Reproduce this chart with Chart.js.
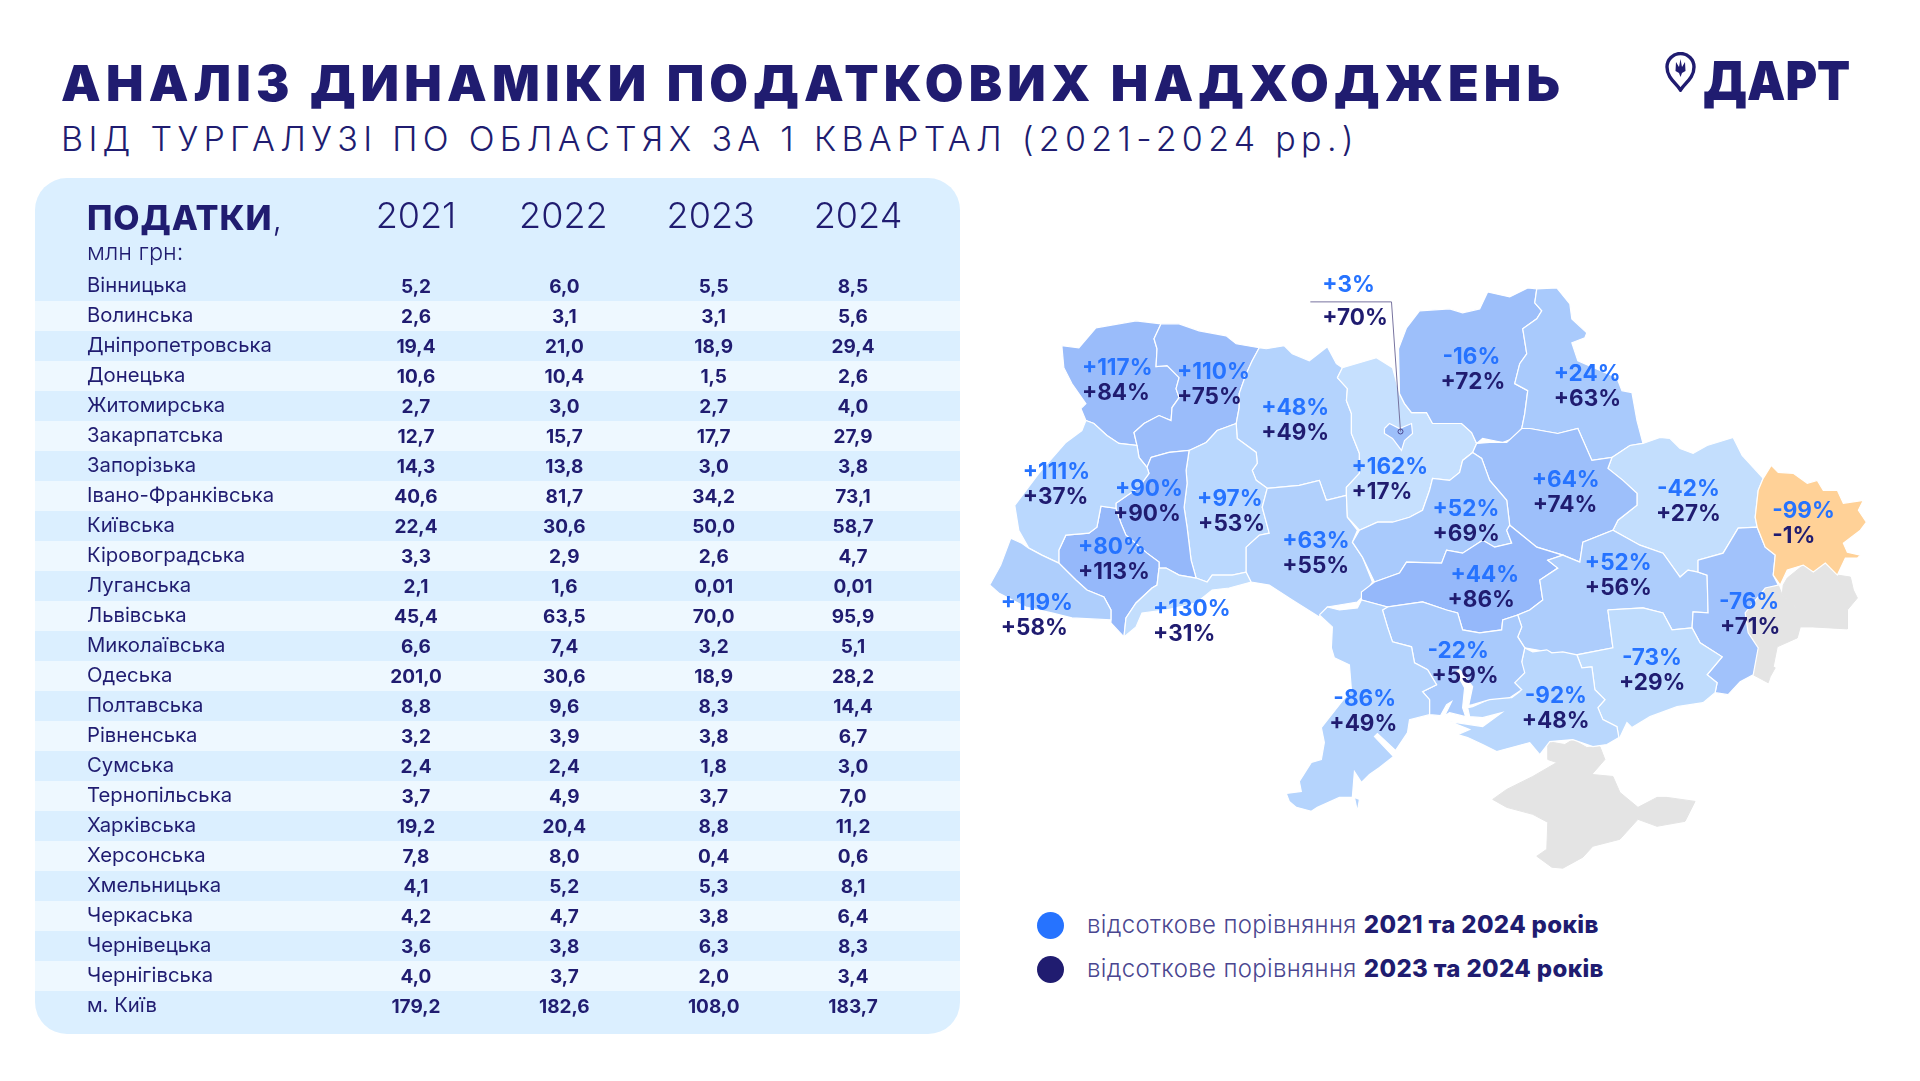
<!DOCTYPE html>
<html lang="uk">
<head>
<meta charset="utf-8">
<title>Аналіз динаміки податкових надходжень</title>
<script src="https://cdn.jsdelivr.net/npm/chart.js@4/dist/chart.umd.min.js"></script>
<style>
  html, body { margin: 0; padding: 0; background: #fff; }
  body { position: relative; width: 1920px; height: 1081px; overflow: hidden; font-family: Inter, sans-serif; color: #201c70; }
  .abs { position: absolute; white-space: nowrap; }
  #title { left: 61px; top: 53px; font-size: 50px; line-height: 60px; font-weight: 900; letter-spacing: 5.2px; }
  #subtitle { left: 61px; top: 118px; font-size: 34px; line-height: 41px; font-weight: 300; letter-spacing: 5.3px; }
  #tablePanel { left: 35px; top: 178px; width: 925px; height: 856px; background: #dbefff; border-radius: 32px; overflow: hidden; }
  #tableChart { position: absolute; left: 0; top: 0; }
  #mapChart { position: absolute; left: 980px; top: 260px; }
  #taxHead { left: 87px; top: 197px; font-size: 34px; line-height: 42px; font-weight: 800; letter-spacing: 0.9px; }
  #taxHead span { font-weight: 300; }
  #taxUnit { left: 87px; top: 238px; font-size: 23.5px; line-height: 28px; font-weight: 300; }
  .dot { position: absolute; width: 27px; height: 27px; border-radius: 50%; }
  .legendText { left: 1087px; font-size: 24px; line-height: 30px; font-weight: 300; color: #4a4690; letter-spacing: 0.35px; }
  .legendText b { font-weight: 800; color: #201c70; }
  #logoText { left: 1703px; top: 48px; font-size: 54px; line-height: 66px; font-weight: 900; transform: scaleX(.895); transform-origin: left center; }
  #logoPin { position: absolute; left: 1665px; top: 52px; }
</style>
</head>
<body>
<div class="abs" id="title">АНАЛІЗ ДИНАМІКИ ПОДАТКОВИХ НАДХОДЖЕНЬ</div>
<div class="abs" id="subtitle">ВІД ТУРГАЛУЗІ ПО ОБЛАСТЯХ ЗА 1 КВАРТАЛ (2021-2024 рр.)</div>

<svg id="logoPin" width="31" height="40" viewBox="0 0 31 40">
  <path d="M15.5 38 C11 31 2 26 2 15 A13.5 13.5 0 0 1 29 15 C29 26 20 31 15.5 38 Z" fill="none" stroke="#201c70" stroke-width="3.4"/>
  <path d="M15.5 7 L17 15 L20 10 L20.5 19 L17 21 L15.5 25 L14 21 L10.5 19 L11 10 L14 15 Z" fill="#201c70"/>
</svg>
<div class="abs" id="logoText">ДАРТ</div>

<div class="abs" id="tablePanel"><canvas id="tableChart" width="925" height="856"></canvas></div>
<div class="abs" id="taxHead">ПОДАТКИ<span>,</span></div>
<div class="abs" id="taxUnit">млн грн:</div>

<canvas id="mapChart" width="940" height="640"></canvas>

<div class="dot" style="left:1037px;top:912px;background:#2673ff"></div>
<div class="abs legendText" style="top:910px">відсоткове порівняння <b>2021 та 2024 років</b></div>
<div class="dot" style="left:1037px;top:956px;background:#201c70"></div>
<div class="abs legendText" style="top:954px">відсоткове порівняння <b>2023 та 2024 років</b></div>

<script>
// ---- TABLE DATA ----
const years = ['2021', '2022', '2023', '2024'];
const regions = [
  'Вінницька', 'Волинська', 'Дніпропетровська', 'Донецька', 'Житомирська', 'Закарпатська', 'Запорізька',
  'Івано-Франківська', 'Київська', 'Кіровоградська', 'Луганська', 'Львівська', 'Миколаївська', 'Одеська',
  'Полтавська', 'Рівненська', 'Сумська', 'Тернопільська', 'Харківська', 'Херсонська', 'Хмельницька',
  'Черкаська', 'Чернівецька', 'Чернігівська', 'м. Київ'
];
const taxes2021 = [5.2, 2.6, 19.4, 10.6, 2.7, 12.7, 14.3, 40.6, 22.4, 3.3, 2.1, 45.4, 6.6, 201.0, 8.8, 3.2, 2.4, 3.7, 19.2, 7.8, 4.1, 4.2, 3.6, 4.0, 179.2];
const taxes2022 = [6.0, 3.1, 21.0, 10.4, 3.0, 15.7, 13.8, 81.7, 30.6, 2.9, 1.6, 63.5, 7.4, 30.6, 9.6, 3.9, 2.4, 4.9, 20.4, 8.0, 5.2, 4.7, 3.8, 3.7, 182.6];
const taxes2023 = [5.5, 3.1, 18.9, 1.5, 2.7, 17.7, 3.0, 34.2, 50.0, 2.6, 0.01, 70.0, 3.2, 18.9, 8.3, 3.8, 1.8, 3.7, 8.8, 0.4, 5.3, 3.8, 6.3, 2.0, 108.0];
const taxes2024 = [8.5, 5.6, 29.4, 2.6, 4.0, 27.9, 3.8, 73.1, 58.7, 4.7, 0.01, 95.9, 5.1, 28.2, 14.4, 6.7, 3.0, 7.0, 11.2, 0.6, 8.1, 6.4, 8.3, 3.4, 183.7];

// ---- MAP LABELS (same order as regions) ----
const change2021to2024 = [63, 117, 52, -76, 48, 119, -73, 80, 162, 44, -99, 111, -22, -86, 64, 110, 24, 90, -42, -92, 97, 52, 130, -16, 3];
const change2023to2024 = [55, 84, 56, 71, 49, 58, 29, 113, 17, 86, -1, 37, 59, 49, 74, 75, 63, 90, 27, 48, 53, 69, 31, 72, 70];

// ---- COLOURS ----
const navy = '#201c70';
const brightBlue = '#2673ff';
const bandLight = '#eef8ff';
const occupiedGray = '#e4e4e4';
const regionColors = {
  'Вінницька': '#b1d0fc', 'Волинська': '#9abcfa', 'Дніпропетровська': '#adcdfc', 'Донецька': '#a1c2fb',
  'Житомирська': '#b4d3fd', 'Закарпатська': '#aecefc', 'Запорізька': '#bfdcfd', 'Івано-Франківська': '#95b8fa',
  'Київська': '#c6e0fe', 'Кіровоградська': '#95b8fa', 'Луганська': '#ffd197', 'Львівська': '#bad8fe',
  'Миколаївська': '#a9cafc', 'Одеська': '#b5d4fd', 'Полтавська': '#9dbffa', 'Рівненська': '#9abcfa',
  'Сумська': '#a9cafc', 'Тернопільська': '#95b8fa', 'Харківська': '#c3defd', 'Херсонська': '#b9d7fd',
  'Хмельницька': '#bad8fe', 'Черкаська': '#a9cafc', 'Чернівецька': '#c3defd', 'Чернігівська': '#9dbffa',
  'м. Київ': '#9dbffa'
};

// ---- MAP OUTLINES (traced, in map units) ----
const outlines = {
  'Волинська': [[1063,345],[1080,347],[1097,327],[1137,320],[1162,323],[1155,338],[1158,348],[1157,366],[1168,365],[1180,377],[1177,388],[1180,397],[1173,407],[1172,420],[1160,415],[1145,423],[1135,432],[1138,445],[1120,443],[1108,435],[1095,423],[1087,420],[1082,408],[1087,403],[1073,383],[1065,367]],
  'Рівненська': [[1162,323],[1180,323],[1200,330],[1227,335],[1237,343],[1260,347],[1253,360],[1247,373],[1240,393],[1240,407],[1237,423],[1218,430],[1207,442],[1190,450],[1170,452],[1152,457],[1148,467],[1140,457],[1138,445],[1135,432],[1145,423],[1160,415],[1172,420],[1173,407],[1180,397],[1177,388],[1180,377],[1168,365],[1157,366],[1158,348],[1155,338]],
  'Житомирська': [[1260,347],[1267,348],[1285,345],[1293,353],[1310,360],[1328,346],[1337,363],[1343,367],[1338,377],[1348,388],[1347,400],[1352,413],[1352,433],[1360,453],[1360,473],[1347,487],[1347,495],[1327,500],[1320,480],[1300,485],[1268,488],[1257,480],[1253,470],[1258,463],[1257,452],[1238,438],[1237,423],[1240,407],[1240,393],[1247,373],[1253,360]],
  'Хмельницька': [[1190,450],[1207,442],[1218,430],[1237,423],[1238,438],[1257,452],[1258,463],[1253,470],[1257,480],[1268,488],[1263,507],[1270,533],[1260,535],[1247,547],[1247,572],[1233,575],[1213,575],[1208,582],[1197,578],[1192,560],[1188,527],[1185,507],[1188,483],[1187,470]],
  'Тернопільська': [[1152,457],[1170,452],[1190,450],[1187,470],[1188,483],[1185,507],[1188,527],[1192,560],[1197,578],[1180,575],[1167,568],[1160,568],[1160,562],[1148,553],[1127,535],[1122,523],[1117,508],[1117,503],[1140,487],[1150,473],[1148,467]],
  'Івано-Франківська': [[1102,506],[1117,508],[1122,523],[1127,535],[1148,553],[1160,562],[1160,568],[1158,585],[1153,588],[1137,603],[1127,618],[1125,637],[1112,623],[1112,610],[1105,597],[1088,590],[1077,580],[1060,563],[1060,550],[1067,535],[1090,533],[1098,527]],
  'Львівська': [[1087,420],[1095,423],[1108,435],[1120,443],[1138,445],[1140,457],[1148,467],[1150,473],[1140,487],[1117,503],[1117,508],[1102,506],[1098,527],[1090,533],[1067,535],[1060,550],[1060,563],[1043,555],[1030,548],[1020,530],[1016,505],[1040,473],[1067,442],[1083,430]],
  'Закарпатська': [[1012,538],[1023,543],[1030,548],[1043,555],[1060,563],[1077,580],[1088,590],[1105,597],[1112,610],[1112,620],[1073,618],[1053,613],[1027,607],[1000,593],[991,585],[1002,565]],
  'Чернівецька': [[1160,568],[1167,568],[1180,575],[1197,578],[1208,582],[1213,575],[1233,575],[1247,572],[1252,582],[1230,588],[1213,590],[1197,603],[1167,610],[1143,613],[1137,627],[1125,637],[1127,618],[1137,603],[1153,588],[1158,585]],
  'Вінницька': [[1268,488],[1300,485],[1320,480],[1327,500],[1347,495],[1348,517],[1358,530],[1353,542],[1363,557],[1373,582],[1362,598],[1358,602],[1328,607],[1320,617],[1293,600],[1270,585],[1252,582],[1247,572],[1247,547],[1260,535],[1270,533],[1263,507]],
  'Київська': [[1338,377],[1343,367],[1377,357],[1393,367],[1400,393],[1405,403],[1412,412],[1427,412],[1433,423],[1462,423],[1472,432],[1477,443],[1473,452],[1463,460],[1460,472],[1450,480],[1433,478],[1430,490],[1423,510],[1410,517],[1393,522],[1378,522],[1360,530],[1348,517],[1347,495],[1347,487],[1360,473],[1360,453],[1352,433],[1352,413],[1347,400],[1348,388]],
  'м. Київ': [[1385,428],[1390,423],[1400,428],[1412,423],[1413,433],[1405,440],[1402,450],[1393,438],[1385,433]],
  'Чернігівська': [[1400,393],[1399,348],[1407,327],[1420,310],[1450,308],[1463,312],[1480,308],[1488,291],[1510,296],[1528,287],[1537,288],[1535,302],[1542,310],[1537,318],[1523,328],[1527,353],[1520,363],[1515,383],[1528,390],[1525,413],[1522,428],[1513,438],[1503,442],[1483,438],[1477,443],[1472,432],[1462,423],[1433,423],[1427,412],[1412,412],[1405,403]],
  'Сумська': [[1537,288],[1557,287],[1570,303],[1572,318],[1587,332],[1585,337],[1572,342],[1578,360],[1617,377],[1622,390],[1632,392],[1637,420],[1643,443],[1630,445],[1612,457],[1592,460],[1578,428],[1558,433],[1530,428],[1522,428],[1525,413],[1528,390],[1515,383],[1520,363],[1527,353],[1523,328],[1537,318],[1542,310],[1535,302]],
  'Харківська': [[1612,457],[1630,445],[1643,443],[1660,437],[1670,438],[1680,448],[1693,453],[1707,445],[1733,437],[1742,455],[1763,478],[1758,490],[1755,517],[1757,527],[1738,528],[1723,553],[1698,560],[1698,572],[1688,570],[1680,577],[1663,553],[1640,545],[1613,530],[1618,520],[1637,505],[1637,493],[1623,480],[1608,468]],
  'Полтавська': [[1477,443],[1490,442],[1507,442],[1522,428],[1530,428],[1558,433],[1578,428],[1592,460],[1612,457],[1608,468],[1623,480],[1637,493],[1637,505],[1618,520],[1613,530],[1583,542],[1580,562],[1563,555],[1537,547],[1510,525],[1507,500],[1490,480],[1482,458],[1473,452]],
  'Черкаська': [[1473,452],[1482,458],[1490,480],[1507,500],[1510,525],[1507,530],[1512,543],[1495,547],[1483,540],[1463,553],[1447,550],[1442,563],[1407,562],[1400,573],[1375,582],[1363,557],[1353,542],[1360,530],[1378,522],[1393,522],[1410,517],[1423,510],[1430,490],[1433,478],[1450,480],[1460,472],[1463,460]],
  'Кіровоградська': [[1362,600],[1362,592],[1375,582],[1400,573],[1407,562],[1442,563],[1447,550],[1463,553],[1483,540],[1495,547],[1512,543],[1507,530],[1510,525],[1537,547],[1563,555],[1548,560],[1558,568],[1540,580],[1543,600],[1530,610],[1518,615],[1503,620],[1502,630],[1480,633],[1463,630],[1458,613],[1447,610],[1423,602],[1388,607]],
  'Дніпропетровська': [[1563,555],[1580,562],[1583,542],[1613,530],[1640,545],[1663,553],[1680,577],[1688,570],[1698,572],[1707,575],[1708,613],[1693,612],[1692,628],[1672,630],[1663,613],[1643,608],[1608,610],[1613,648],[1577,655],[1553,653],[1525,648],[1518,637],[1522,627],[1518,615],[1530,610],[1543,600],[1540,580],[1558,568],[1548,560]],
  'Донецька': [[1698,560],[1723,553],[1738,528],[1757,527],[1765,547],[1775,555],[1773,575],[1778,585],[1765,588],[1745,613],[1748,633],[1758,648],[1753,675],[1740,682],[1728,695],[1715,693],[1717,683],[1707,675],[1722,657],[1700,643],[1692,628],[1693,612],[1708,613],[1707,575],[1698,572]],
  'Луганська': [[1763,478],[1771,465],[1778,472],[1793,473],[1807,483],[1817,480],[1823,490],[1837,490],[1843,503],[1863,500],[1858,510],[1866,522],[1860,530],[1843,543],[1847,552],[1860,555],[1857,558],[1845,558],[1837,575],[1825,563],[1813,572],[1803,565],[1787,570],[1780,585],[1773,575],[1775,555],[1765,547],[1757,527],[1755,517],[1758,490]],
  'Запорізька': [[1608,610],[1643,608],[1663,613],[1672,630],[1692,628],[1700,643],[1722,657],[1707,675],[1717,683],[1715,693],[1703,703],[1677,707],[1650,717],[1632,728],[1627,723],[1619,740],[1617,727],[1603,720],[1598,708],[1605,700],[1595,690],[1592,667],[1582,668],[1577,655],[1613,648]],
  'Херсонська': [[1525,648],[1533,652],[1547,650],[1552,653],[1563,652],[1577,655],[1582,668],[1592,667],[1595,690],[1605,700],[1598,708],[1603,720],[1617,727],[1619,738],[1607,745],[1593,747],[1573,740],[1550,742],[1540,755],[1530,743],[1497,752],[1483,745],[1468,738],[1458,735],[1470,730],[1450,722],[1483,727],[1502,713],[1483,718],[1470,717],[1468,708],[1473,707],[1493,698],[1512,698],[1520,692],[1513,682],[1522,672],[1522,662]],
  'Миколаївська': [[1383,610],[1388,607],[1423,602],[1447,610],[1458,613],[1463,630],[1480,633],[1502,630],[1503,620],[1518,615],[1522,627],[1518,637],[1525,648],[1522,662],[1525,673],[1515,683],[1522,690],[1510,698],[1490,700],[1473,705],[1469,706],[1473,687],[1460,670],[1456,672],[1465,688],[1463,708],[1466,717],[1450,713],[1445,716],[1452,702],[1447,705],[1441,716],[1430,715],[1430,700],[1423,692],[1437,685],[1428,670],[1415,663],[1412,647],[1393,642],[1388,627]],
  'Одеська': [[1320,615],[1328,607],[1340,610],[1358,608],[1362,600],[1388,607],[1383,610],[1388,627],[1393,642],[1412,647],[1415,663],[1428,670],[1437,685],[1423,692],[1430,700],[1430,715],[1410,720],[1408,733],[1396,751],[1378,734],[1375,737],[1394,757],[1380,768],[1370,775],[1362,783],[1355,772],[1353,797],[1360,800],[1358,812],[1355,798],[1340,798],[1318,808],[1312,812],[1297,808],[1290,802],[1287,794],[1302,792],[1300,782],[1312,763],[1322,760],[1325,743],[1322,728],[1340,705],[1352,690],[1350,665],[1335,658],[1332,648],[1333,627]]
};
const occupiedOutlines = [
  [[1548,742],[1565,745],[1573,740],[1587,748],[1600,747],[1605,760],[1592,775],[1613,777],[1620,793],[1638,808],[1657,798],[1667,798],[1695,802],[1685,822],[1657,827],[1638,820],[1620,840],[1593,847],[1583,858],[1563,869],[1552,868],[1537,857],[1547,850],[1548,823],[1533,815],[1507,808],[1493,800],[1507,790],[1533,777],[1557,763],[1548,760]],
  [[1778,585],[1782,595],[1802,613],[1812,615],[1812,627],[1800,627],[1797,638],[1777,647],[1773,667],[1775,668],[1770,677],[1768,683],[1753,675],[1758,648],[1748,633],[1745,613],[1765,588]],
  [[1783,585],[1787,578],[1803,565],[1813,572],[1825,563],[1837,575],[1850,577],[1853,590],[1857,598],[1847,610],[1847,629],[1812,627],[1812,615],[1802,613],[1782,595]]
];

// [top line x, top line y, bottom line x, bottom line y], same order as regions
const labelAnchors = [
  [1283,541,1283,566], [1083,368,1083,393], [1585,563,1585,588], [1719,602,1720,627], [1262,408,1262,433],
  [1002,603,1002,628], [1622,658,1619,683], [1079,547,1079,572], [1352,467,1352,492], [1451,575,1448,600],
  [1772,511,1772,536], [1024,472,1024,497], [1428,651,1432,676], [1334,700,1330,725], [1532,480,1533,505],
  [1178,372,1178,397], [1554,374,1554,399], [1116,489,1114,514], [1657,489,1656,514], [1525,697,1522,722],
  [1198,499,1199,524], [1433,509,1433,534], [1154,609,1154,634], [1443,357,1441,382], [1323,284,1323,317]
];

// ---- HELPERS ----
function formatTax(value) {
  return value.toFixed(value < 0.1 ? 2 : 1).replace('.', ',');
}

function formatChange(value) {
  return (value > 0 ? '+' : '') + value + '%';
}

function closed(points) {
  const pts = points.map(p => ({ x: p[0], y: p[1] }));
  pts.push(pts[0]);
  return pts;
}

// ---- TABLE CHART ----
// small per-column shift of the printed values, the header is evenly spaced and the values are not
const columnNudge = [0, 1, 3, -5];

const tablePlugin = {
  id: 'tableCells',
  beforeDraw(chart) {
    // has to go under the axis labels too
    const { ctx, scales: { y } } = chart;
    ctx.save();
    ctx.fillStyle = bandLight;
    regions.forEach((r, i) => {
      if (i % 2 === 1) ctx.fillRect(0, y.getPixelForValue(i) - 15, chart.width, 30);
    });
    ctx.restore();
  },
  afterDatasetsDraw(chart) {
    const { ctx } = chart;
    ctx.save();
    ctx.font = '700 19px Inter, sans-serif';
    ctx.fillStyle = navy;
    ctx.textAlign = 'center';
    ctx.textBaseline = 'middle';
    chart.data.datasets.forEach((ds, d) => {
      chart.getDatasetMeta(d).data.forEach((pt, i) => {
        ctx.fillText(formatTax(ds.data[i].value), pt.x + columnNudge[d], pt.y + 1);
      });
    });
    ctx.restore();
  }
};

new Chart(document.getElementById('tableChart'), {
  type: 'scatter',
  data: {
    datasets: [taxes2021, taxes2022, taxes2023, taxes2024].map((values, c) => ({
      label: years[c],
      data: values.map((value, i) => ({ x: years[c], y: regions[i], value })),
      pointRadius: 0
    }))
  },
  options: {
    responsive: false,
    animation: false,
    devicePixelRatio: 1,
    layout: { padding: { left: 52, right: 28.3, top: 0, bottom: 13 } },
    plugins: { legend: { display: false }, tooltip: { enabled: false } },
    scales: {
      x: {
        type: 'category', labels: years, position: 'top', offset: true,
        grid: { display: false, drawTicks: false }, border: { display: false },
        ticks: { color: navy, padding: 32, maxRotation: 0, font: { family: 'Inter, sans-serif', size: 36, weight: '300' } },
        afterFit(axis) { axis.height = 93; }
      },
      y: {
        type: 'category', labels: regions, offset: true,
        grid: { display: false, drawTicks: false }, border: { display: false },
        ticks: { color: navy, autoSkip: false, crossAlign: 'far', padding: 0, font: { family: 'Inter, sans-serif', size: 20.3, weight: '400' } },
        afterFit(axis) { axis.width = 255.3; }
      }
    }
  },
  plugins: [tablePlugin]
});

// ---- MAP CHART ----
const mapLabelPlugin = {
  id: 'mapLabels',
  afterDatasetsDraw(chart) {
    const { ctx, scales: { x, y } } = chart;
    ctx.save();
    ctx.font = '700 22.5px Inter, sans-serif';
    ctx.textAlign = 'left';
    ctx.textBaseline = 'middle';
    regions.forEach((r, i) => {
      const a = labelAnchors[i];
      ctx.fillStyle = brightBlue;
      ctx.fillText(formatChange(change2021to2024[i]), x.getPixelForValue(a[0]), y.getPixelForValue(a[1]));
      ctx.fillStyle = navy;
      ctx.fillText(formatChange(change2023to2024[i]), x.getPixelForValue(a[2]), y.getPixelForValue(a[3]));
    });
    ctx.restore();
  }
};

const mapDatasets = [];
occupiedOutlines.forEach(points => {
  mapDatasets.push({ data: closed(points), showLine: true, fill: 'shape', tension: 0, pointRadius: 0, backgroundColor: occupiedGray, borderColor: occupiedGray, borderWidth: 1 });
});
Object.keys(outlines).forEach(name => {
  mapDatasets.push({ label: name, data: closed(outlines[name]), showLine: true, fill: 'shape', tension: 0, pointRadius: 0, backgroundColor: regionColors[name], borderColor: '#ffffff', borderWidth: 1.2 });
});
// leader line from the Kyiv city labels down to the city itself
mapDatasets.push({
  data: [{ x: 1311, y: 301 }, { x: 1392, y: 301 }, { x: 1401, y: 431 }],
  showLine: true, tension: 0, fill: false, borderColor: '#77739f', borderWidth: 1,
  pointRadius: [0, 0, 2.5], pointBackgroundColor: 'transparent', pointBorderColor: '#4a4690', pointBorderWidth: 1
});
// the library paints the first dataset last, so the later ones have to come first
mapDatasets.reverse();

new Chart(document.getElementById('mapChart'), {
  type: 'scatter',
  data: { datasets: mapDatasets },
  options: {
    responsive: false,
    animation: false,
    devicePixelRatio: 1,
    layout: { padding: 0 },
    plugins: { legend: { display: false }, tooltip: { enabled: false } },
    scales: {
      x: { type: 'linear', min: 986.3, max: 1914.5, display: false },
      y: { type: 'linear', min: 264, max: 895.9, reverse: true, display: false }
    }
  },
  plugins: [mapLabelPlugin]
});
</script>
</body>
</html>
